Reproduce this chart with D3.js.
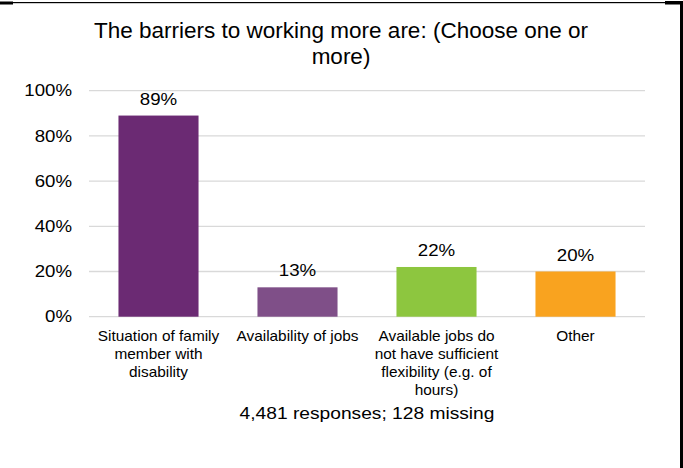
<!DOCTYPE html>
<html>
<head>
<meta charset="utf-8">
<script src="https://cdn.jsdelivr.net/npm/d3@7"></script>
<style>
  html, body { margin: 0; padding: 0; background: #fff; }
  svg { display: block; font-family: "Liberation Sans", Arial, sans-serif; }
</style>
</head>
<body>
<svg id="chart" width="683" height="468"></svg>
<script>
// Survey answers and their shares
const categories = [
  "Situation of family member with disability",
  "Availability of jobs",
  "Available jobs do not have sufficient flexibility (e.g. of hours)",
  "Other"
];
const shares = [0.89, 0.13, 0.22, 0.20];
const barColors = ["#6B2A73", "#7F4F88", "#8DC63F", "#F9A31F"];
const yTicks = [0, 0.2, 0.4, 0.6, 0.8, 1.0];
const titleLines = ["The barriers to working more are: (Choose one or", "more)"];
const footnote = "4,481 responses; 128 missing";

const svg = d3.select("#chart");
const W = 683, H = 468;
const plot = { left: 89, right: 645, top: 90.7, bottom: 316.7 };

// Frame edges
const frame = svg.append("g").attr("fill", "#000");
frame.append("rect").attr("x", 0).attr("y", 2).attr("width", 681).attr("height", 1.2);
frame.append("rect").attr("x", 0).attr("y", 1.5).attr("width", 13).attr("height", 3);
frame.append("rect").attr("x", 665).attr("y", 1).attr("width", 16).attr("height", 3.5);
frame.append("rect").attr("x", 680).attr("y", 1).attr("width", 3).attr("height", H);

// Horizontally stretched text helper
function stretchText(sel, x, y, sx) {
  sel.attr("transform", `translate(${x},${y}) scale(${sx},1)`);
}

// Title
const title = svg.append("g").attr("fill", "#000").attr("font-size", 22.5).attr("text-anchor", "middle");
titleLines.forEach((line, i) => {
  title.append("text").text(line).call(stretchText, 341, 38.3 + i * 26, 1.0);
});

const x = d3.scaleBand()
  .domain(categories)
  .range([plot.left, plot.right])
  .paddingInner(0.424)
  .paddingOuter(0.212);

const y = d3.scaleLinear().domain([0, 1]).range([plot.bottom, plot.top]);

// Gridlines
svg.append("g")
  .selectAll("line")
  .data(yTicks)
  .join("line")
  .attr("x1", plot.left).attr("x2", plot.right)
  .attr("y1", d => y(d)).attr("y2", d => y(d))
  .attr("stroke", "#D9D9D9")
  .attr("stroke-width", 1.3);

// Y tick labels
const fmt = d3.format(".0%");
svg.append("g")
  .attr("font-size", 15.8).attr("fill", "#000").attr("text-anchor", "end")
  .selectAll("text")
  .data(yTicks)
  .join("text")
  .text(d => fmt(d))
  .each(function (d) { stretchText(d3.select(this), 72, y(d) + 5.6, 1.18); });

// Bars
svg.append("g")
  .selectAll("rect")
  .data(categories)
  .join("rect")
  .attr("x", d => x(d))
  .attr("width", x.bandwidth())
  .attr("y", (d, i) => y(shares[i]))
  .attr("height", (d, i) => y(0) - y(shares[i]))
  .attr("fill", (d, i) => barColors[i]);

// Value labels
svg.append("g")
  .attr("font-size", 17).attr("fill", "#000").attr("text-anchor", "middle")
  .selectAll("text")
  .data(categories)
  .join("text")
  .text((d, i) => fmt(shares[i]))
  .each(function (d, i) {
    stretchText(d3.select(this), x(d) + x.bandwidth() / 2, y(shares[i]) - 11, 1.1);
  });

// Category labels, wrapped to the slot width
const maxWidth = 125;
const catG = svg.append("g").attr("font-size", 14).attr("fill", "#000").attr("text-anchor", "middle");
categories.forEach(cat => {
  const words = cat.split(" ");
  const lines = [];
  const probe = catG.append("text");
  let cur = [];
  words.forEach(w => {
    const test = cur.concat(w).join(" ");
    probe.text(test);
    if (probe.node().getComputedTextLength() > maxWidth && cur.length) {
      lines.push(cur.join(" "));
      cur = [w];
    } else {
      cur.push(w);
    }
  });
  if (cur.length) lines.push(cur.join(" "));
  probe.remove();
  lines.forEach((line, i) => {
    catG.append("text").text(line)
      .call(stretchText, x(cat) + x.bandwidth() / 2, 341 + i * 18, 1.1);
  });
});

// Response count
svg.append("text")
  .attr("font-size", 16).attr("fill", "#000").attr("text-anchor", "middle")
  .text(footnote)
  .call(stretchText, 367, 419, 1.2);
</script>
</body>
</html>
